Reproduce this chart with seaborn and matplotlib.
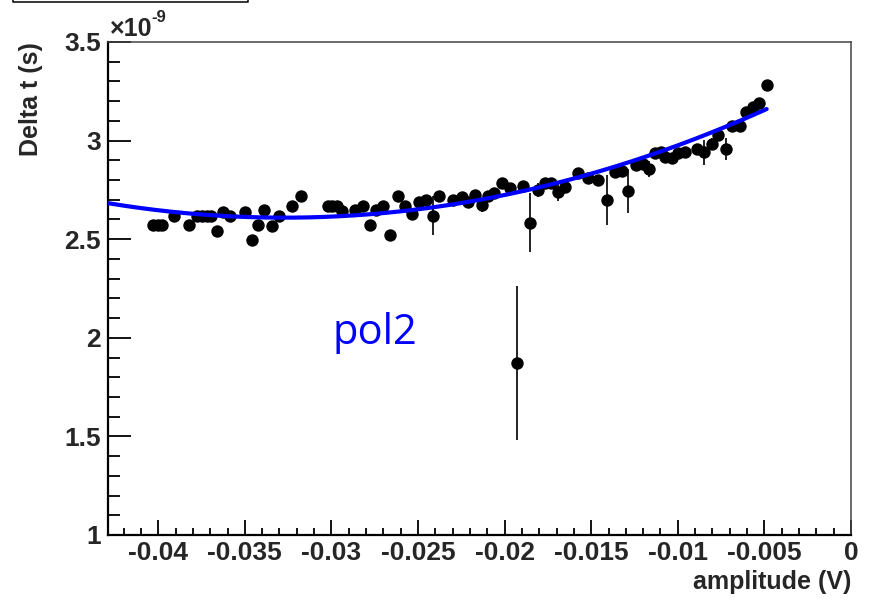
import numpy as np
import pandas as pd
import matplotlib
matplotlib.use('Agg')
import matplotlib.pyplot as plt
from matplotlib.ticker import MultipleLocator
from matplotlib.lines import Line2D
import seaborn as sns

# ---- data (delta t in units of 1e-9 s) ----
amplitude = [-0.04028, -0.04003, -0.03980, -0.03909, -0.03822, -0.03778, -0.03749, -0.03720, -0.03695, -0.03662,
             -0.03624, -0.03585, -0.03499, -0.03460, -0.03422, -0.03389, -0.03341, -0.03303, -0.03226, -0.03177,
             -0.03021, -0.02995, -0.02969, -0.02941, -0.02864, -0.02816, -0.02777, -0.02744, -0.02700, -0.02662,
             -0.02617, -0.02575, -0.02536, -0.02494, -0.02456, -0.02415, -0.02377, -0.02296, -0.02248, -0.02210,
             -0.02171, -0.02132, -0.02094, -0.02059, -0.02017, -0.01969, -0.01930, -0.01892, -0.01853, -0.01809,
             -0.01767, -0.01732, -0.01692, -0.01651, -0.01574, -0.01517, -0.01459, -0.01411, -0.01363, -0.01324,
             -0.01286, -0.01241, -0.01199, -0.01166, -0.01132, -0.01097, -0.01074, -0.01035, -0.00997, -0.00958,
             -0.00891, -0.00847, -0.00804, -0.00766, -0.00722, -0.00689, -0.00641, -0.00606, -0.00568, -0.00529,
             -0.00487]
delta_t = [2.572, 2.572, 2.572, 2.618, 2.572, 2.618, 2.618, 2.618, 2.618, 2.543,
           2.640, 2.618, 2.638, 2.496, 2.572, 2.648, 2.569, 2.620, 2.668, 2.720,
           2.668, 2.668, 2.668, 2.645, 2.648, 2.670, 2.572, 2.648, 2.670, 2.521,
           2.720, 2.670, 2.630, 2.690, 2.700, 2.620, 2.720, 2.700, 2.716, 2.690,
           2.724, 2.673, 2.720, 2.736, 2.786, 2.758, 1.874, 2.770, 2.584, 2.750,
           2.783, 2.783, 2.740, 2.763, 2.834, 2.810, 2.800, 2.700, 2.840, 2.846,
           2.744, 2.876, 2.880, 2.855, 2.935, 2.940, 2.915, 2.910, 2.935, 2.944,
           2.956, 2.940, 2.983, 3.028, 2.956, 3.074, 3.074, 3.147, 3.168, 3.190,
           3.280]
delta_t_err = [0.02, 0.02, 0.02, 0.02, 0.02, 0.02, 0.02, 0.02, 0.02, 0.02,
               0.02, 0.02, 0.02, 0.025, 0.02, 0.02, 0.02, 0.02, 0.02, 0.02,
               0.02, 0.02, 0.02, 0.02, 0.02, 0.02, 0.02, 0.02, 0.02, 0.02,
               0.02, 0.02, 0.02, 0.02, 0.02, 0.10, 0.02, 0.02, 0.02, 0.02,
               0.02, 0.035, 0.02, 0.02, 0.02, 0.02, 0.39, 0.02, 0.148, 0.035,
               0.02, 0.02, 0.045, 0.02, 0.02, 0.02, 0.02, 0.127, 0.02, 0.02,
               0.11, 0.02, 0.02, 0.04, 0.02, 0.02, 0.02, 0.02, 0.02, 0.02,
               0.025, 0.065, 0.03, 0.025, 0.055, 0.025, 0.025, 0.025, 0.025, 0.025,
               0.025]

# pol2 fit parameters (units of 1e-9 s)
fit_p0, fit_p1, fit_p2 = 3.3695, 46.46, 709.8
fit_range = [-0.0429, -0.00487]

x_ticks = [-0.04, -0.035, -0.03, -0.025, -0.02, -0.015, -0.01, -0.005, 0]
x_ticklabels = ['-0.04', '-0.035', '-0.03', '-0.025', '-0.02', '-0.015', '-0.01', '-0.005', '0']
y_ticks = [1, 1.5, 2, 2.5, 3, 3.5]
y_ticklabels = ['1', '1.5', '2', '2.5', '3', '3.5']

# ---- style ----
sns.set_theme(style='white')
plt.rcParams['font.family'] = ['Liberation Sans', 'DejaVu Sans']

W, H = 872, 603
fig = plt.figure(figsize=(W / 100, H / 100), dpi=100)
ax = fig.add_axes([108 / W, 1 - 535 / H, 743 / W, 493 / H])

df = pd.DataFrame({'amplitude': amplitude, 'delta_t': delta_t, 'err': delta_t_err})

ax.errorbar(df['amplitude'], df['delta_t'], yerr=df['err'], fmt='none',
            ecolor='#111111', elinewidth=1.3, capsize=0, zorder=2)
sns.scatterplot(data=df, x='amplitude', y='delta_t', ax=ax, color='black',
                s=80, marker='o', linewidth=0, zorder=3, legend=False)

fx = np.linspace(fit_range[0], fit_range[1], 300)
fy = fit_p0 + fit_p1 * fx + fit_p2 * fx ** 2
sns.lineplot(x=fx, y=fy, ax=ax, color='#0000ff', linewidth=3.0, zorder=4,
             sort=False, legend=False)

ax.set_xlim(-0.0429, 0)
ax.set_ylim(1, 3.5)

ax.set_xticks(x_ticks)
ax.set_xticklabels(x_ticklabels, fontsize=19, fontweight='bold')
ax.set_yticks(y_ticks)
ax.set_yticklabels(y_ticklabels, fontsize=19, fontweight='bold')
ax.xaxis.set_minor_locator(MultipleLocator(0.001))
ax.yaxis.set_minor_locator(MultipleLocator(0.1))

ax.tick_params(axis='y', which='major', direction='in', length=16.5, width=1.3,
               color='black', pad=5, left=True, right=False)
ax.tick_params(axis='y', which='minor', direction='in', length=8.3, width=1.3,
               color='black', left=True, right=False)
ax.tick_params(axis='x', which='major', direction='in', length=10.8, width=1.3,
               color='black', pad=4, bottom=True, top=False)
ax.tick_params(axis='x', which='minor', direction='in', length=5.4, width=1.3,
               color='black', bottom=True, top=False)

for side in ['left', 'bottom']:
    ax.spines[side].set_linewidth(1.6)
    ax.spines[side].set_color('black')
for side in ['top', 'right']:
    ax.spines[side].set_linewidth(1.1)
    ax.spines[side].set_color('#444444')

ax.set_xlabel('amplitude (V)', fontsize=18, fontweight='bold', loc='right')
ax.set_ylabel('Delta t (s)', fontsize=18, fontweight='bold', loc='top')
ax.xaxis.set_label_coords(1.0, -0.072)
ax.yaxis.set_label_coords(-0.088, 1.0)

# exponent label (x10^-9)
fig.text(110 / W, 1 - 36 / H, '\u00d710', fontsize=18, fontweight='bold',
         ha='left', va='baseline')
fig.text(151 / W, 1 - 22 / H, '-9', fontsize=12, fontweight='bold',
         ha='left', va='baseline')

# annotation
fig.text(375 / W, 1 - 333 / H, 'pol2', fontsize=30, color='#0000ff',
         family=['Open Sans', 'DejaVu Sans'], ha='center', va='center')

# partial box at top (cut off)
bx = [13 / W, 13 / W, 248 / W, 248 / W]
by = [1.0, 1 - 2 / H, 1 - 2 / H, 1.0]
fig.add_artist(Line2D(bx, by, color='black', linewidth=1.1, transform=fig.transFigure))

fig.savefig('out.png', dpi=100)
